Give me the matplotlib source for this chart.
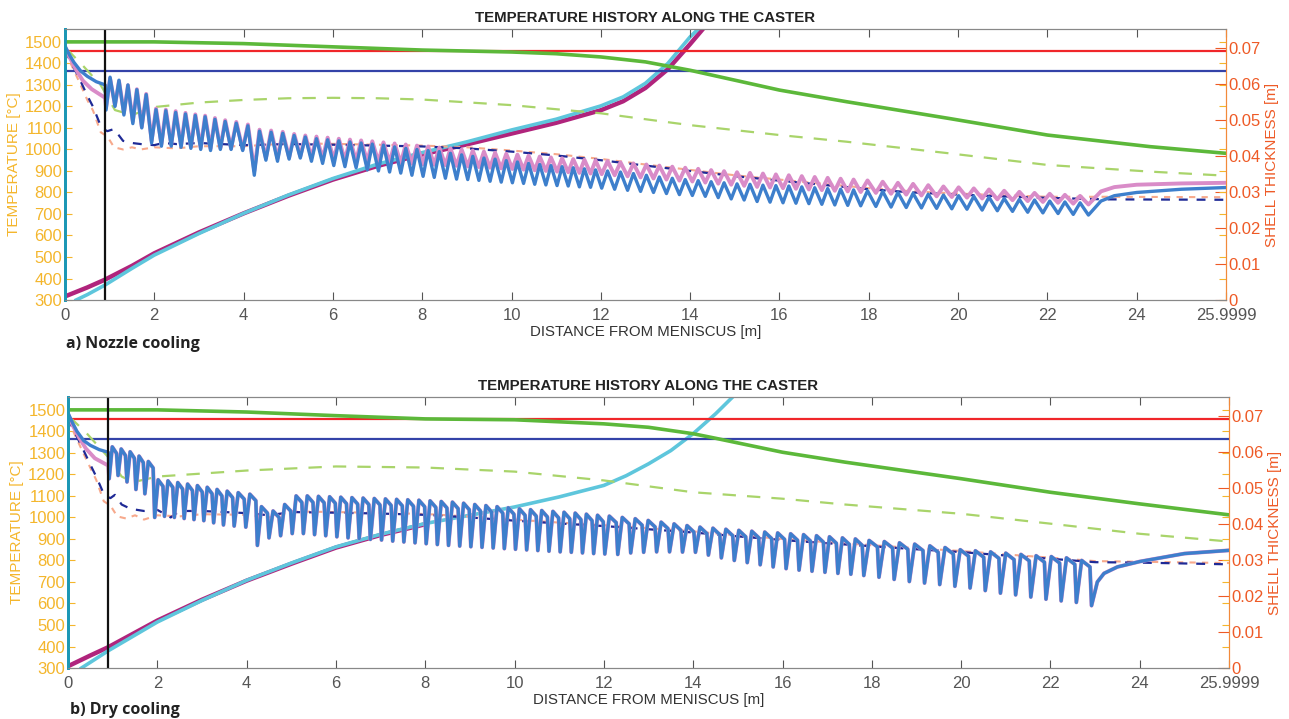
import matplotlib.pyplot as plt
import numpy as np

plt.rcParams['font.family'] = ['Liberation Sans', 'DejaVu Sans']

# roll positions [m] (spray cooling spikes)
rolls = [0.92, 1.12, 1.32, 1.52, 1.72, 1.94, 2.16, 2.38, 2.60, 2.82, 3.04, 3.26, 3.48, 3.72, 3.98,
         4.24, 4.50, 4.76, 5.02,
         5.27, 5.52, 5.77, 6.02, 6.27, 6.52, 6.77, 7.02, 7.27, 7.52, 7.77, 8.02, 8.27, 8.52, 8.77,
         9.02, 9.27, 9.52, 9.77, 10.02, 10.27, 10.52, 10.77, 11.02, 11.27, 11.52, 11.77, 12.02,
         12.31, 12.60, 12.89, 13.18, 13.47, 13.76, 14.05, 14.34, 14.63, 14.92, 15.21, 15.50, 15.79,
         16.08, 16.37, 16.66, 16.95, 17.24, 17.53, 17.82,
         18.16, 18.50, 18.84, 19.18, 19.52, 19.86, 20.20, 20.54, 20.88, 21.22, 21.56, 21.90, 22.24,
         22.58, 22.92]

# ---- a) nozzle cooling ----
a_surf_low = [1183, 1200, 1160, 1120, 1100, 1030, 1015, 1015, 1010, 1005, 1000, 995, 1000, 1000, 995,
              880, 950, 945, 955,
              960, 945, 935, 925, 920, 915, 905, 900, 895, 890, 880, 875, 870, 866, 862,
              860, 856, 852, 848, 845, 842, 838, 835, 832, 830, 826, 824, 820,
              815, 810, 805, 800, 795, 790, 786, 782, 776, 770, 765, 758, 755,
              752, 750, 748, 745, 742, 740, 738,
              735, 732, 730, 728, 726, 724, 722, 718, 715, 712, 708, 705, 702,
              698, 695]
a_surf_high = [1336, 1322, 1300, 1278, 1255, 1185, 1180, 1172, 1165, 1158, 1152, 1140, 1130, 1122, 1110,
               1085, 1080, 1075, 1065,
               1058, 1050, 1045, 1040, 1035, 1030, 1025, 1020, 1012, 1005, 1000, 995, 990, 982, 975,
               968, 960, 955, 948, 942, 935, 930, 925, 920, 915, 910, 905, 900,
               895, 888, 880, 872, 866, 860, 855, 850, 845, 840, 838, 834, 832,
               830, 826, 822, 818, 815, 812, 808,
               805, 800, 796, 792, 788, 785, 782, 778, 772, 768, 765, 760, 756,
               752, 750]
a_surf_x0 = [0, 0.1, 0.2, 0.35, 0.5, 0.7, 0.9]
a_surf_y0 = [1480, 1440, 1405, 1365, 1340, 1315, 1300]
a_surf_xt = [23.2, 23.5, 24.0, 25.0, 26.0]
a_surf_yt = [760, 785, 800, 815, 823]

a_pink_low = [1195, 1205, 1170, 1130, 1105, 1040, 1025, 1022, 1018, 1012, 1008, 1004, 1006, 1004, 1000,
              900, 960, 958, 962,
              968, 962, 958, 954, 950, 948, 945, 942, 940, 937, 934, 931, 929, 927, 924,
              921, 918, 915, 912, 909, 906, 903, 900, 897, 894, 891, 888, 885,
              880, 875, 870, 865, 860, 855, 851, 846, 841, 836, 831, 826, 823,
              820, 817, 814, 811, 808, 805, 802,
              798, 794, 790, 786, 782, 779, 776, 772, 768, 764, 760, 756, 752,
              748, 744]
a_pink_high = [1330, 1318, 1298, 1280, 1258, 1190, 1185, 1178, 1170, 1163, 1157, 1146, 1136, 1128, 1116,
               1092, 1088, 1082, 1072,
               1065, 1060, 1055, 1050, 1046, 1042, 1038, 1033, 1028, 1023, 1018, 1014, 1009, 1005, 1000,
               995, 990, 985, 980, 976, 971, 967, 963, 959, 955, 952, 949, 946,
               940, 935, 930, 925, 920, 915, 910, 904, 899, 894, 891, 888, 884,
               880, 876, 872, 868, 864, 860, 856,
               850, 845, 840, 834, 828, 824, 819, 814, 808, 803, 798, 794, 789,
               784, 780]
a_pink_x0 = [0, 0.1, 0.25, 0.4, 0.6, 0.9]
a_pink_y0 = [1480, 1430, 1370, 1320, 1280, 1240]
a_pink_xt = [23.2, 23.5, 24.0, 25.0, 26.0]
a_pink_yt = [805, 825, 836, 842, 845]

a_navy_x = [0, 0.15, 0.34, 0.5, 0.63, 0.82, 0.95, 1.1, 1.3, 1.5, 1.7, 2.0, 2.2, 2.5, 3.0, 3.5, 4.0,
            5.0, 6.0, 7.0, 8.0, 9.0, 10.0, 11.0, 12.0, 13.0, 14.0, 15.0, 16.0, 17.0, 18.0, 19.0,
            20.0, 21.0, 22.0, 23.3, 26.0]
a_navy_y = [1460, 1400, 1322, 1250, 1198, 1099, 1085, 1095, 1040, 1030, 1025, 1020, 1030, 1025, 1030,
            1025, 1020, 1025, 1022, 1018, 1014, 1005, 990, 972, 950, 925, 900, 876, 855, 835, 815,
            800, 790, 782, 775, 768, 766]
a_salm_x = [0, 0.15, 0.34, 0.5, 0.63, 0.8, 0.95, 1.1, 1.3, 1.5, 1.7, 2.0, 2.5, 3.0, 4.0,
            5.0, 6.0, 7.0, 8.0, 9.0, 10.0, 11.0, 12.0, 13.0, 14.0, 15.0, 16.0, 17.0, 18.0, 19.0,
            20.0, 21.0, 22.0, 23.3, 26.0]
a_salm_y = [1455, 1390, 1305, 1230, 1180, 1080, 1060, 1010, 1000, 1010, 1000, 1010, 1005, 1015, 1015,
            1028, 1026, 1022, 1018, 1010, 995, 978, 956, 930, 905, 880, 860, 840, 820, 805, 795,
            787, 780, 780, 778]

a_green_x = [0, 2, 4, 6, 8, 10, 11, 12, 13, 14, 15, 16, 17.5, 19.8, 22, 24.3, 26]
a_green_y = [1500, 1500, 1492, 1477, 1462, 1453, 1445, 1430, 1407, 1368, 1322, 1276, 1222, 1144, 1067, 1013, 982]
a_gdash_x = [0, 0.1, 0.4, 0.8, 1.12, 1.5, 2.0, 3, 4, 5, 6, 7, 8, 10, 12, 14, 16, 17.5, 19.8, 22, 24.3, 26]
a_gdash_y = [1458, 1454, 1390, 1299, 1183, 1160, 1197, 1218, 1230, 1238, 1240, 1238, 1232, 1206, 1168,
             1113, 1067, 1036, 982, 928, 897, 878]

a_cyan_x = [0.25, 0.5, 0.9, 1.5, 2, 3, 4, 5, 6, 7, 8, 9, 10, 11, 12, 12.5, 13, 13.5, 14, 14.2]
a_cyan_y = [0, 0.0015, 0.0042, 0.0088, 0.0125, 0.0185, 0.0241, 0.0292, 0.0338, 0.0378, 0.0410, 0.0440,
            0.0473, 0.0503, 0.0540, 0.0565, 0.0603, 0.0658, 0.0732, 0.0756]
a_mag_x = [0, 0.5, 0.9, 1.5, 2, 3, 4, 5, 6, 7, 8, 9, 10, 11, 12, 12.5, 13, 13.5, 14, 14.3]
a_mag_y = [0.001, 0.0035, 0.0057, 0.0095, 0.0130, 0.0188, 0.0241, 0.0290, 0.0335, 0.0373, 0.0405, 0.0433,
           0.0463, 0.0493, 0.0528, 0.0553, 0.0590, 0.0642, 0.0712, 0.0756]

# ---- b) dry cooling ----
b_surf_low = [1180, 1195, 1165, 1130, 1110, 1000, 1005, 1000, 995, 990, 985, 975, 965, 960, 955,
              870, 905, 915, 925,
              925, 920, 915, 910, 905, 902, 898, 895, 890, 886, 882, 878, 874, 870, 867,
              864, 861, 858, 855, 852, 849, 846, 843, 840, 838, 835, 832, 830,
              828, 835, 838, 840, 840, 839, 838, 825, 812, 800, 790, 780, 770,
              762, 755, 750, 745, 740, 736, 730,
              722, 712, 702, 695, 688, 680, 672, 660, 648, 640, 630, 620, 612,
              605, 590]
b_surf_high = [1328, 1318, 1305, 1285, 1260, 1175, 1170, 1162, 1155, 1148, 1140, 1130, 1122, 1115, 1108,
               1050, 1030, 1060, 1100,
               1100, 1098, 1096, 1094, 1092, 1090, 1088, 1086, 1084, 1082, 1080, 1077, 1074, 1071, 1066,
               1060, 1055, 1050, 1045, 1040, 1036, 1032, 1028, 1024, 1020, 1015, 1010, 1006,
               1000, 994, 986, 978, 970, 962, 955, 950, 945, 940, 936, 932, 928,
               924, 920, 915, 910, 905, 900, 893,
               888, 882, 876, 868, 860, 850, 845, 840, 834, 828, 822, 818, 812,
               800, 785]
b_surf_x0 = [0, 0.1, 0.2, 0.35, 0.5, 0.7, 0.9]
b_surf_y0 = [1485, 1440, 1400, 1357, 1335, 1315, 1303]
b_surf_xt = [23.05, 23.2, 23.5, 24.0, 25.0, 26.0]
b_surf_yt = [700, 740, 770, 795, 832, 847]

b_pink_x0 = [0, 0.1, 0.25, 0.4, 0.6, 0.9]
b_pink_y0 = [1480, 1430, 1370, 1320, 1275, 1241]

b_navy_x = [0, 0.15, 0.34, 0.5, 0.63, 0.82, 0.95, 1.05, 1.2, 1.4, 1.7, 2.0, 2.3, 2.5, 3.0, 3.5, 4.0, 4.5,
            5.0, 6.0, 7.0, 8.0, 9.0, 10.0, 11.0, 12.0, 13.0, 14.0, 15.0, 16.0, 17.0, 18.0, 19.0,
            20.0, 21.0, 22.0, 23.0, 24.0, 26.0]
b_navy_y = [1460, 1395, 1315, 1245, 1190, 1100, 1090, 1105, 1060, 1040, 1030, 1035, 1000, 1030, 1030,
            1025, 1020, 1010, 1025, 1022, 1018, 1012, 1000, 985, 972, 960, 945, 930, 912, 895, 880,
            866, 852, 839, 823, 808, 792, 790, 782]
b_salm_x = [0, 0.15, 0.34, 0.5, 0.63, 0.8, 0.95, 1.1, 1.3, 1.5, 1.7, 2.0, 2.5, 3.0, 4.0, 4.5,
            5.0, 6.0, 7.0, 8.0, 9.0, 10.0, 11.0, 12.0, 13.0, 14.0, 15.0, 16.0, 17.0, 18.0, 19.0,
            20.0, 21.0, 22.0, 23.0, 24.0, 26.0]
b_salm_y = [1455, 1385, 1300, 1230, 1175, 1075, 1055, 1005, 995, 1010, 990, 1010, 1005, 1015, 1012, 1000,
            1028, 1025, 1021, 1016, 1004, 990, 976, 964, 950, 935, 917, 900, 885, 871, 857,
            844, 828, 813, 797, 794, 788]

b_green_x = [0, 2, 4, 6, 8, 10, 12, 13, 14, 14.5, 16, 17.4, 20, 22, 24, 26]
b_green_y = [1500, 1500, 1490, 1473, 1458, 1454, 1435, 1419, 1389, 1368, 1303, 1257, 1180, 1117, 1063, 1012]
b_gdash_x = [0, 0.1, 0.4, 0.9, 1.2, 1.46, 2, 4, 6, 8, 10, 12, 14, 16, 17.4, 20, 22, 24, 26]
b_gdash_y = [1458, 1454, 1395, 1280, 1190, 1164, 1190, 1218, 1237, 1232, 1213, 1172, 1117, 1087, 1060,
             1017, 971, 924, 888]

b_cyan_x = [0.3, 0.9, 2, 3, 4, 5, 6, 7, 8, 9, 10, 11, 12, 12.5, 13, 13.5, 14, 14.5, 14.9]
b_cyan_y = [0, 0.0048, 0.0128, 0.0188, 0.0244, 0.0292, 0.0337, 0.0372, 0.0402, 0.0425, 0.0448, 0.0476,
            0.0508, 0.0535, 0.0568, 0.0605, 0.0652, 0.0707, 0.0756]
b_mag_x = [0, 0.5, 0.9, 2, 3, 4, 5, 6, 7, 8]
b_mag_y = [0.0005, 0.0035, 0.0058, 0.0132, 0.0190, 0.0243, 0.0290, 0.0335, 0.0370, 0.0400]

liquidus = 1457
solidus = 1366
x_mould_end = 0.9

xticks = [0, 2, 4, 6, 8, 10, 12, 14, 16, 18, 20, 22, 24, 25.9999]
xtick_labels = ['0', '2', '4', '6', '8', '10', '12', '14', '16', '18', '20', '22', '24', '25.9999']
yticks_t = list(range(300, 1501, 100))
yticks_s = [0, 0.01, 0.02, 0.03, 0.04, 0.05, 0.06, 0.07]
ytick_s_labels = ['0', '0.01', '0.02', '0.03', '0.04', '0.05', '0.06', '0.07']

C_BLUE = '#3d7fcc'
C_PINK = '#d98cc8'
C_NAVY = '#1f2a96'
C_SALM = '#f7a98c'
C_GREEN = '#5cb83a'
C_GDASH = '#a9d46a'
C_RED = '#f0262a'
C_SOL = '#3442a8'
C_CYAN = '#5ec6dc'
C_MAG = '#b0247c'
C_GOLD = '#f4b62c'
C_ORANGE = '#ee5a26'


def saw(x0, y0, lows, highs, xt, yt, f, sag=None):
    # zigzag through the read trough/peak values; sag adds a shoulder before each spike
    xs = list(x0)
    ys = list(y0)
    n = len(rolls)
    for i in range(n):
        xs.append(rolls[i])
        ys.append(lows[i])
        if i < n - 1:
            nxt = rolls[i + 1]
            xs.append(rolls[i] + f * (nxt - rolls[i]))
            ys.append(highs[i])
            if sag is not None:
                xs.append(nxt - 0.035)
                ys.append(highs[i] - sag)
    xs += list(xt)
    ys += list(yt)
    return xs, ys


def panel(rect, d):
    ax = fig.add_axes(rect)
    ax2 = ax.twinx()
    ax.set_zorder(ax2.get_zorder() + 1)
    ax.patch.set_visible(False)

    ax2.plot(d['mag_x'], d['mag_y'], color=C_MAG, lw=3.2, solid_capstyle='butt')
    ax2.plot(d['cyan_x'], d['cyan_y'], color=C_CYAN, lw=2.6)

    ax.axhline(liquidus, color=C_RED, lw=1.6)
    ax.axhline(solidus, color=C_SOL, lw=1.6)
    ax.plot(d['green_x'], d['green_y'], color=C_GREEN, lw=2.6)
    ax.plot(d['gdash_x'], d['gdash_y'], color=C_GDASH, lw=1.6, dashes=(6, 5))
    ax.plot(d['salm_x'], d['salm_y'], color=C_SALM, lw=1.5, dashes=(3, 3))
    ax.plot(d['navy_x'], d['navy_y'], color=C_NAVY, lw=1.6, dashes=(4, 4))
    ax.plot(d['pink_x'], d['pink_y'], color=C_PINK, lw=2.8)
    ax.plot(d['surf_x'], d['surf_y'], color=C_BLUE, lw=2.4)
    ax.axvline(x_mould_end, color='#111111', lw=1.6)

    ax.set_xlim(0, 25.9999)
    ax.set_ylim(300, 1560)
    ax2.set_ylim(0, 0.0754)
    ax.set_xticks(xticks)
    ax.set_xticklabels(xtick_labels)
    ax.set_yticks(yticks_t)
    ax2.set_yticks(yticks_s)
    ax2.set_yticklabels(ytick_s_labels)

    ax.tick_params(axis='x', direction='in', length=6, top=True, colors='#555555',
                   labelsize=12, pad=6)
    ax.tick_params(axis='y', direction='in', length=5, right=True, color=C_GOLD,
                   labelcolor=C_GOLD, labelsize=12, pad=2)
    ax2.tick_params(axis='y', direction='in', length=8, color=C_ORANGE,
                    labelcolor=C_ORANGE, labelsize=12, pad=2)
    for a in (ax, ax2):
        a.spines['top'].set_color('#888888')
        a.spines['bottom'].set_color('#888888')
        a.spines['left'].set_color('#1b97b5')
        a.spines['left'].set_linewidth(2.0)
        a.spines['right'].set_color('#f28a3a')

    ax.set_title('TEMPERATURE HISTORY ALONG THE CASTER', fontsize=10.8, fontweight='bold',
                 color='#222222', pad=5)
    ax.set_xlabel('DISTANCE FROM MENISCUS [m]', fontsize=10.8, color='#333333', labelpad=1)
    ax.set_ylabel('TEMPERATURE [°C]', fontsize=11, color=C_GOLD, labelpad=3)
    ax2.set_ylabel('SHELL THICKNESS [m]', fontsize=11, color=C_ORANGE, labelpad=3)
    return ax


fig = plt.figure(figsize=(12.89, 7.19), dpi=100)

ax_x, ax_y = saw(a_surf_x0, a_surf_y0, a_surf_low, a_surf_high, a_surf_xt, a_surf_yt, 0.45)
ap_x, ap_y = saw(a_pink_x0, a_pink_y0, a_pink_low, a_pink_high, a_pink_xt, a_pink_yt, 0.45)
bx_x, bx_y = saw(b_surf_x0, b_surf_y0, b_surf_low, b_surf_high, b_surf_xt, b_surf_yt, 0.35, sag=30)
bp_x, bp_y = saw(b_pink_x0, b_pink_y0, b_surf_low, b_surf_high, b_surf_xt, b_surf_yt, 0.35, sag=30)

data_a = dict(surf_x=ax_x, surf_y=ax_y, pink_x=ap_x, pink_y=ap_y,
              navy_x=a_navy_x, navy_y=a_navy_y, salm_x=a_salm_x, salm_y=a_salm_y,
              green_x=a_green_x, green_y=a_green_y, gdash_x=a_gdash_x, gdash_y=a_gdash_y,
              cyan_x=a_cyan_x, cyan_y=a_cyan_y, mag_x=a_mag_x, mag_y=a_mag_y)
data_b = dict(surf_x=bx_x, surf_y=bx_y, pink_x=bp_x, pink_y=bp_y,
              navy_x=b_navy_x, navy_y=b_navy_y, salm_x=b_salm_x, salm_y=b_salm_y,
              green_x=b_green_x, green_y=b_green_y, gdash_x=b_gdash_x, gdash_y=b_gdash_y,
              cyan_x=b_cyan_x, cyan_y=b_cyan_y, mag_x=b_mag_x, mag_y=b_mag_y)

panel([0.0504, 0.5827, 0.9007, 0.3770], data_a)
panel([0.0528, 0.0709, 0.9007, 0.3770], data_b)

fig.text(0.051, 0.522, 'a) Nozzle cooling', fontsize=11.5, fontweight='bold', color='#222222',
         family=['Open Sans', 'DejaVu Sans'], va='center')
fig.text(0.054, 0.013, 'b) Dry cooling', fontsize=11.5, fontweight='bold', color='#222222',
         family=['Open Sans', 'DejaVu Sans'], va='center')

fig.savefig('out.png', dpi=100)
